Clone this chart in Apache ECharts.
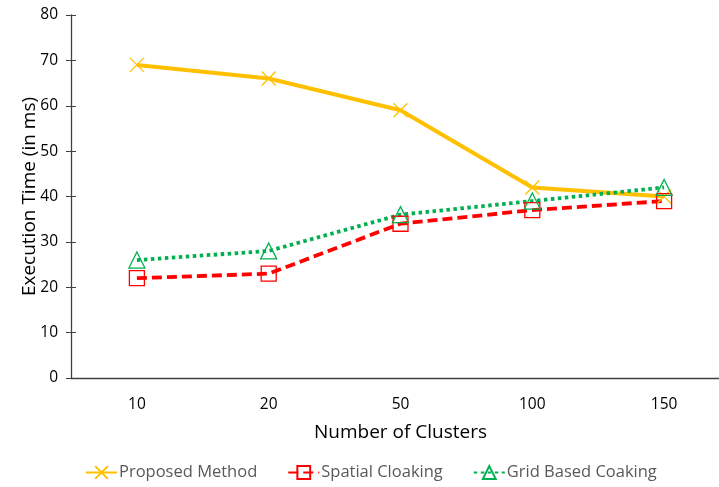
<!DOCTYPE html>
<html style="height: 100%">
<head>
    <meta charset="utf-8" />
    <title>Execution Time</title>
    <script src="https://cdn.jsdelivr.net/npm/echarts@6/dist/echarts.min.js"></script>
</head>
<body style="height: 100%; margin: 0; overflow: hidden; background: #fff">
    <div id="container" style="width: 719px; height: 487px"></div>
    <script>
        // data
        var clusters = ["10", "20", "50", "100", "150"];
        var proposed = [69, 66, 59, 42, 40];
        var spatial = [22, 23, 34, 37, 39];
        var gridBased = [26, 28, 36, 39, 42];
        var yTicks = [0, 10, 20, 30, 40, 50, 60, 70, 80];

        var font = "Open Sans";
        var axisColor = "#404040";
        var crossPath = "path://M0,0L10,10M10,0L0,10";

        var myChart = echarts.init(document.getElementById("container"), null, { renderer: "canvas" });

        var option = {
            backgroundColor: "#fff",
            animation: false,
            textStyle: { fontFamily: font },
            // plot runs past the right edge like the cropped original
            grid: { left: 71, top: 15, bottom: 109, width: 659, outerBoundsMode: "none" },
            legend: {
                left: 80,
                bottom: 1,
                itemWidth: 31,
                itemHeight: 16,
                itemGap: 30,
                textStyle: { fontFamily: font, fontSize: 16.5, color: "#595959", padding: [0, 0, 0, -3] },
                data: ["Proposed Method", "Spatial Cloaking", "Grid Based Coaking"]
            },
            xAxis: [
                {
                    type: "category",
                    data: clusters,
                    name: "Number of Clusters",
                    nameLocation: "middle",
                    nameGap: 45,
                    nameTextStyle: { fontSize: 19, color: "#000" },
                    axisLine: { lineStyle: { color: axisColor, width: 1.3 } },
                    axisTick: { alignWithLabel: true, length: 5, lineStyle: { color: axisColor } },
                    axisLabel: { margin: 19, fontSize: 15.5, color: "#000" }
                },
                {
                    type: "category",
                    data: clusters,
                    position: "bottom",
                    axisLine: { show: false },
                    axisTick: { inside: true, alignWithLabel: true, length: 5, lineStyle: { color: axisColor } },
                    axisLabel: { show: false }
                }
            ],
            yAxis: [
                {
                    type: "value",
                    min: yTicks[0],
                    max: yTicks[yTicks.length - 1],
                    interval: 10,
                    name: "Execution Time (in ms)",
                    nameLocation: "middle",
                    nameGap: 32,
                    nameMoveOverlap: false,
                    nameTextStyle: { fontSize: 19, color: "#000" },
                    splitLine: { show: false },
                    axisLine: { show: true, lineStyle: { color: axisColor, width: 1.3 } },
                    axisTick: { show: true, length: 5, lineStyle: { color: axisColor } },
                    axisLabel: { margin: 13, fontSize: 15.5, color: "#000" }
                },
                {
                    type: "value",
                    position: "left",
                    min: yTicks[0],
                    max: yTicks[yTicks.length - 1],
                    interval: 10,
                    splitLine: { show: false },
                    axisLine: { show: false },
                    axisTick: { show: true, inside: true, length: 5, lineStyle: { color: axisColor } },
                    axisLabel: { show: false }
                }
            ],
            series: [
                {
                    name: "Proposed Method",
                    type: "line",
                    data: proposed,
                    symbol: crossPath,
                    symbolSize: 14,
                    lineStyle: { color: "#FFC000", width: 4 },
                    itemStyle: { color: "rgba(0,0,0,0)", borderColor: "#FFC000", borderWidth: 1.3 }
                },
                {
                    name: "Spatial Cloaking",
                    type: "line",
                    data: spatial,
                    symbol: "rect",
                    symbolSize: 15,
                    z: 3,
                    lineStyle: { color: "#FF0000", width: 3.8, type: [10, 5] },
                    itemStyle: { color: "rgba(0,0,0,0)", borderColor: "#FF0000", borderWidth: 1.3 }
                },
                {
                    name: "Grid Based Coaking",
                    type: "line",
                    data: gridBased,
                    symbol: "triangle",
                    symbolSize: 16,
                    lineStyle: { color: "#00B050", width: 3.8, type: [3.5, 3.5] },
                    itemStyle: { color: "rgba(0,0,0,0)", borderColor: "#00B050", borderWidth: 1.3 }
                }
            ]
        };

        myChart.setOption(option);
        window.addEventListener("resize", myChart.resize);
    </script>
</body>
</html>
